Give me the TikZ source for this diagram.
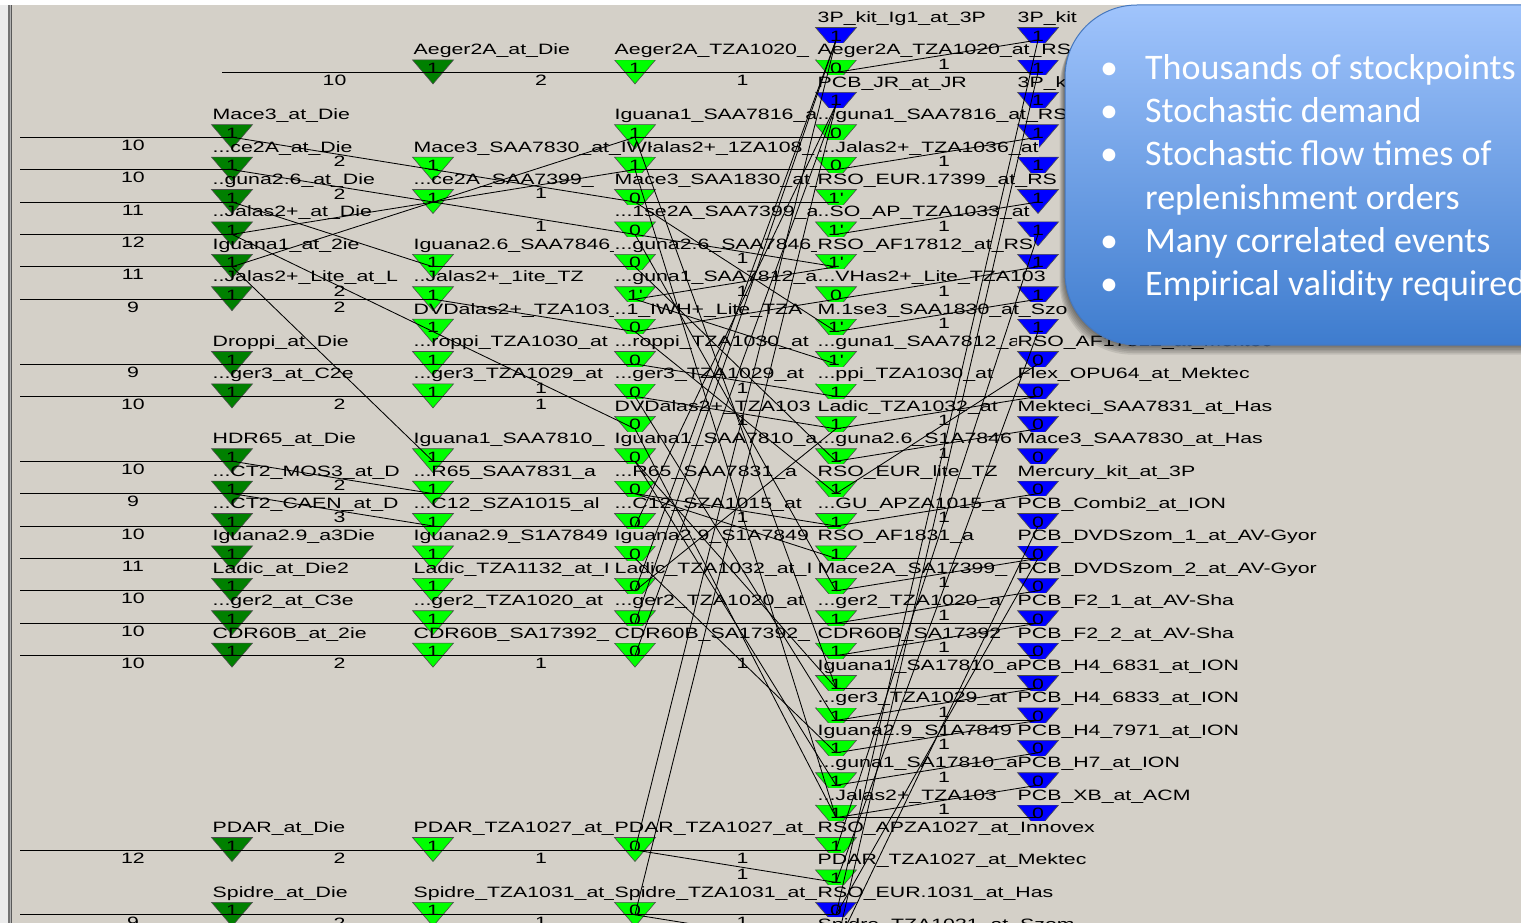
\documentclass[tikz,border=0pt]{standalone}
\usepackage{fontspec}
\setmainfont{Liberation Sans}
\newfontfamily\uifont[FakeStretch=1.42]{Liberation Sans}
\newfontfamily\boxfont{Carlito}
\definecolor{bg}{RGB}{212,208,200}
\definecolor{dkgreen}{RGB}{0,128,0}
\definecolor{ltgreen}{RGB}{0,255,0}
\definecolor{pblue}{RGB}{0,0,255}
\definecolor{boxtop}{RGB}{160,196,252}
\definecolor{boxbot}{RGB}{62,124,206}
\definecolor{boxedge}{RGB}{70,120,190}
\tikzset{
  lbl/.style={anchor=base west, inner xsep=0.5pt, inner ysep=1.5pt, font=\uifont\fontsize{15}{15}\selectfont, text=black},
  lblf/.style={lbl, fill=bg},
  num/.style={font=\uifont\fontsize{15}{15}\selectfont, inner sep=0pt, text=black, xshift=7pt, yshift=-8pt},
  tdig/.style={font=\uifont\fontsize{15}{15}\selectfont, inner sep=0pt, text=black},
  link/.style={draw=black, line width=0.85pt},
  bul/.style={anchor=base west, inner sep=0pt, text=white, font=\boxfont\fontsize{36}{36}\selectfont},
}
\newcommand\stp[5]{%
  \path[fill=#4, draw=black!70, line width=0.6pt] ({#2-20.5},{27.5+32.4*#3}) -- ({#2+20.5},{27.5+32.4*#3}) -- ({#2},{51.5+32.4*#3}) -- cycle;
  \node[tdig] at ({#2},{36+32.4*#3}) {#5};
  \coordinate (#1) at ({#2},{40+32.4*#3});
}
\newcommand\lab[4]{\node[#1] at ({#2},{22.5+32.4*#3}) {\detokenize{#4}};}
\newcommand\lk[3]{\draw[link] (#1) -- node[num, pos=0.5]{#3} (#2);}
\begin{document}
\begin{tikzpicture}[x=1pt,y=-1pt]
\useasboundingbox (0,0) rectangle (1521,923);
\clip (0,0) rectangle (1521,923);
\fill[bg] (0,0) rectangle (1521,923);
\fill[white] (0,0) rectangle (1521,5);
\fill[black!8] (0,5) rectangle (8,923);
\fill[black!55] (8.3,5) rectangle (10,923);
\fill[black!30] (10,5) rectangle (11,923);
\fill[black!65] (11,5) rectangle (12.4,923);
% ---------- stockpoints ----------
\foreach \r in {3,4,5,6,7,8,10,11,13,14,15,16,17,18,19,25,27} {\stp{A\r}{232}{\r}{dkgreen}{1}}
\stp{B1}{433}{1}{dkgreen}{1}
\foreach \r in {4,5,7,8,9,10,11,13,14,15,16,17,18,19,25,27} {\stp{B\r}{433}{\r}{ltgreen}{1}}
\foreach \r/\d in {1/1,3/1,4/1,5/0,6/0,7/0,8/1',9/0,10/0,11/0,12/0,13/0,14/0,15/0,16/0,17/0,18/0,19/0,25/0,27/0} {\stp{C\r}{635}{\r}{ltgreen}{\d}}
\foreach \r/\c/\d in {0/pblue/1,1/ltgreen/0,2/pblue/1,3/ltgreen/0,4/ltgreen/0,5/ltgreen/1',6/ltgreen/1',7/ltgreen/1',8/ltgreen/0,9/ltgreen/1',10/ltgreen/1',11/ltgreen/1,12/ltgreen/1,13/ltgreen/1,14/ltgreen/1,15/ltgreen/1,16/ltgreen/1,17/ltgreen/1,18/ltgreen/1,19/ltgreen/1,20/ltgreen/1,21/ltgreen/1,22/ltgreen/1,23/ltgreen/1,24/ltgreen/1,25/ltgreen/1,26/ltgreen/1,27/pblue/0,28/pblue/0} {\stp{D\r}{836}{\r}{\c}{\d}}
\foreach \r in {0,...,9} {\stp{E\r}{1038}{\r}{pblue}{1}}
\foreach \r in {10,...,24} {\stp{E\r}{1038}{\r}{pblue}{0}}
% ---------- labels column A ----------
\lab{lbl}{212}{3}{Mace3_at_Die}
\lab{lbl}{212}{4}{...ce2A_at_Die}
\lab{lbl}{212}{5}{..guna2.6_at_Die}
\lab{lbl}{212}{6}{..Jalas2+_at_Die}
\lab{lbl}{212}{7}{Iguana1_at_2ie}
\lab{lbl}{212}{8}{..Jalas2+_Lite_at_L}
\lab{lbl}{212}{10}{Droppi_at_Die}
\lab{lbl}{212}{11}{...ger3_at_C2e}
\lab{lbl}{212}{13}{HDR65_at_Die}
\lab{lbl}{212}{14}{...CT2_MOS3_at_D}
\lab{lbl}{212}{15}{...CT2_CAEN_at_D}
\lab{lbl}{212}{16}{Iguana2.9_a3Die}
\lab{lbl}{212}{17}{Ladic_at_Die2}
\lab{lbl}{212}{18}{...ger2_at_C3e}
\lab{lbl}{212}{19}{CDR60B_at_2ie}
\lab{lbl}{212}{25}{PDAR_at_Die}
\lab{lbl}{212}{27}{Spidre_at_Die}
% ---------- labels column B ----------
\lab{lbl}{413}{1}{Aeger2A_at_Die}
\lab{lbl}{413}{4}{Mace3_SAA7830_at_IWH}
\lab{lbl}{413}{5}{...ce2A_SAA7399_}
\lab{lbl}{413}{7}{Iguana2.6_SAA7846_}
\lab{lbl}{413}{8}{..Jalas2+_1ite_TZ}
\lab{lbl}{413}{9}{DVDalas2+_TZA103_}
\lab{lbl}{413}{10}{...roppi_TZA1030_at}
\lab{lbl}{413}{11}{...ger3_TZA1029_at}
\lab{lbl}{413}{13}{Iguana1_SAA7810_}
\lab{lbl}{413}{14}{...R65_SAA7831_a}
\lab{lbl}{413}{15}{...C12_SZA1015_al}
\lab{lbl}{413}{16}{Iguana2.9_S1A7849}
\lab{lbl}{413}{17}{Ladic_TZA1132_at_I}
\lab{lbl}{413}{18}{...ger2_TZA1020_at}
\lab{lbl}{413}{19}{CDR60B_SA17392_}
\lab{lbl}{413}{25}{PDAR_TZA1027_at_}
\lab{lbl}{413}{27}{Spidre_TZA1031_at_}
% ---------- labels column C ----------
\lab{lblf}{614}{1}{Aeger2A_TZA1020_}
\lab{lblf}{614}{3}{Iguana1_SAA7816_a}
\lab{lblf}{652}{4}{alas2+_1ZA108_}
\lab{lblf}{614}{5}{Mace3_SAA1830_at_}
\lab{lblf}{614}{6}{...1se2A_SAA7399_a}
\lab{lblf}{614}{7}{...guna2.6_SAA7846_}
\lab{lblf}{614}{8}{...guna1_SAA7812_a}
\lab{lblf}{614}{9}{..1_IWH+_Lite_TZA}
\lab{lblf}{614}{10}{...roppi_TZA1030_at}
\lab{lblf}{614}{11}{...ger3_TZA1029_at}
\lab{lblf}{614}{12}{DVDalas2+_TZA103}
\lab{lblf}{614}{13}{Iguana1_SAA7810_a}
\lab{lblf}{614}{14}{...R65_SAA7831_a}
\lab{lblf}{614}{15}{...C12_SZA1015_at}
\lab{lblf}{614}{16}{Iguana2.9_S1A7849}
\lab{lblf}{614}{17}{Ladic_TZA1032_at_I}
\lab{lblf}{614}{18}{...ger2_TZA1020_at}
\lab{lblf}{614}{19}{CDR60B_SA17392_}
\lab{lblf}{614}{25}{PDAR_TZA1027_at_}
\lab{lblf}{614}{27}{Spidre_TZA1031_at_}
% ---------- labels column D ----------
\lab{lblf}{817}{0}{3P_kit_Ig1_at_3P}
\lab{lblf}{817}{1}{Aeger2A_TZA1020_at_RS}
\lab{lblf}{817}{2}{PCB_JR_at_JR}
\lab{lblf}{817}{3}{...guna1_SAA7816_at_RS}
\lab{lblf}{817}{4}{...Jalas2+_TZA1036_at}
\lab{lblf}{817}{5}{RSO_EUR.17399_at_RS}
\lab{lblf}{817}{6}{..SO_AP_TZA1033_at}
\lab{lblf}{817}{7}{RSO_AF17812_at_RS}
\lab{lblf}{817}{8}{...VHas2+_Lite_TZA103}
\lab{lblf}{817}{9}{M.1se3_SAA1830_at_Szo}
\lab{lblf}{817}{10}{...guna1_SAA7812_at}
\lab{lblf}{817}{11}{...ppi_TZA1030_at}
\lab{lblf}{817}{12}{Ladic_TZA1032_at}
\lab{lblf}{817}{13}{...guna2.6_S1A7846}
\lab{lblf}{817}{14}{RSO_EUR_lite_TZ}
\lab{lblf}{817}{15}{...GU_APZA1015_a}
\lab{lblf}{817}{16}{RSO_AF1831_a}
\lab{lblf}{817}{17}{Mace2A_SA17399_}
\lab{lblf}{817}{18}{...ger2_TZA1020_a}
\lab{lblf}{817}{19}{CDR60B_SA17392}
\lab{lblf}{817}{20}{Iguana1_SA17810_a}
\lab{lblf}{817}{21}{...ger3_TZA1029_at}
\lab{lblf}{817}{22}{Iguana2.9_S1A7849}
\lab{lblf}{817}{23}{...guna1_SA17810_a}
\lab{lblf}{817}{24}{...Jalas2+_TZA103}
\lab{lblf}{817}{25}{RSO_APZA1027_at_Innovex}
\lab{lblf}{817}{26}{PDAR_TZA1027_at_Mektec}
\lab{lblf}{817}{27}{RSO_EUR.1031_at_Has}
\lab{lblf}{817}{28}{Spidre_TZA1031_at_Szom}
% ---------- labels column E ----------
\lab{lblf}{1017}{0}{3P_kit}
\lab{lblf}{1017}{2}{3P_k}
\lab{lblf}{1017}{10}{RSO_AF17812_at_Mektec}
\lab{lblf}{1017}{11}{Flex_OPU64_at_Mektec}
\lab{lblf}{1017}{12}{Mekteci_SAA7831_at_Has}
\lab{lblf}{1017}{13}{Mace3_SAA7830_at_Has}
\lab{lblf}{1017}{14}{Mercury_kit_at_3P}
\lab{lblf}{1017}{15}{PCB_Combi2_at_ION}
\lab{lblf}{1017}{16}{PCB_DVDSzom_1_at_AV-Gyor}
\lab{lblf}{1017}{17}{PCB_DVDSzom_2_at_AV-Gyor}
\lab{lblf}{1017}{18}{PCB_F2_1_at_AV-Sha}
\lab{lblf}{1017}{19}{PCB_F2_2_at_AV-Sha}
\lab{lblf}{1017}{20}{PCB_H4_6831_at_ION}
\lab{lblf}{1017}{21}{PCB_H4_6833_at_ION}
\lab{lblf}{1017}{22}{PCB_H4_7971_at_ION}
\lab{lblf}{1017}{23}{PCB_H7_at_ION}
\lab{lblf}{1017}{24}{PCB_XB_at_ACM}
% ---------- connectors ----------
\foreach \r/\n in {3/10,4/10,5/11,6/12,7/11,8/9,10/9,11/10,13/10,14/9,15/10,16/11,17/10,18/10,19/10,25/12,27/9} {
  \coordinate (s\r) at (20,{40+32.4*\r});
  \draw[link] (s\r) -- node[num, pos=0.5]{\n} (A\r);
}
\coordinate (s1) at (222,{40+32.4*1});
\lk{s1}{B1}{10}
% A -> B
\lk{A3}{B4}{2}\lk{A4}{B5}{2}\lk{A5}{B7}{}\lk{A6}{B9}{2}\lk{A8}{B8}{2}
\lk{A10}{B10}{}\lk{A11}{B11}{2}\lk{A13}{B14}{2}\lk{A14}{B15}{3}\lk{A14}{B14}{}
\lk{A15}{B15}{}\lk{A16}{B16}{}\lk{A17}{B17}{}\lk{A18}{B18}{}\lk{A19}{B19}{2}
\lk{A25}{B25}{2}\lk{A27}{B27}{2}\lk{A7}{B13}{}\lk{A6}{C4}{}\lk{A7}{C3}{}
% B -> C
\lk{B1}{C1}{2}\lk{B4}{C5}{1}\lk{B5}{C6}{1}\lk{B7}{C7}{}\lk{B8}{C9}{}
\lk{B9}{C12}{1}\lk{B10}{C10}{}\lk{B11}{C11}{1}\lk{B13}{C13}{}\lk{B14}{C14}{}
\lk{B15}{C15}{}\lk{B16}{C16}{}\lk{B17}{C17}{}\lk{B18}{C18}{}\lk{B19}{C19}{1}
\lk{B25}{C25}{1}\lk{B27}{C27}{1}
% C -> D
\lk{C1}{D1}{1}\lk{C3}{D3}{}\lk{C4}{D4}{}\lk{C5}{D9}{}\lk{C5}{D5}{}
\lk{C6}{D17}{}\lk{C6}{D7}{1}\lk{C7}{D13}{}\lk{C8}{D7}{1}\lk{C8}{D10}{}
\lk{C9}{D8}{}\lk{C10}{D11}{1}\lk{C11}{D21}{}\lk{C12}{D24}{}\lk{C11}{D12}{1}
\lk{C13}{D20}{}\lk{C13}{D23}{}\lk{C14}{D16}{}\lk{C14}{D15}{1}\lk{C15}{D15}{}
\lk{C16}{D22}{}\lk{C17}{D12}{}\lk{C18}{D18}{}\lk{C19}{D19}{1}
\lk{C25}{D25}{1}\lk{C25}{D26}{1}\lk{C27}{D27}{1}\lk{C27}{D28}{}
\lk{C25}{D0}{}\lk{C27}{D2}{}\lk{C19}{D2}{}\lk{C17}{D0}{}\lk{C15}{D2}{}\lk{C18}{D0}{}
\lk{C9}{D14}{}\lk{C4}{D24}{}\lk{C3}{D20}{}
% D -> E
\lk{D1}{E0}{1}\lk{D4}{E3}{1}\lk{D6}{E5}{1}\lk{D8}{E7}{1}\lk{D9}{E8}{1}
\lk{D12}{E11}{1}\lk{D13}{E12}{1}\lk{D15}{E14}{1}\lk{D17}{E16}{1}\lk{D18}{E17}{1}
\lk{D19}{E18}{1}\lk{D21}{E20}{1}\lk{D22}{E21}{1}\lk{D23}{E22}{1}\lk{D24}{E23}{1}
\lk{D1}{E1}{}\lk{D11}{E11}{}\lk{D16}{E16}{}\lk{D18}{E18}{}\lk{D19}{E19}{}
\lk{D20}{E20}{}\lk{D21}{E21}{}\lk{D24}{E24}{}
\lk{D28}{E1}{}\lk{D27}{E0}{}\lk{D28}{E15}{}\lk{D27}{E16}{}
\lk{D14}{E10}{}\lk{D25}{E6}{}\lk{D26}{E9}{}
% ---------- callout box ----------
\foreach \i in {1,...,6} {
  \fill[black, opacity=0.09, rounded corners=72pt] ({1065-\i*0.9},{5+\i*1.6}) rectangle (1620,{345+\i*1.6});
}
\shade[top color=boxtop, bottom color=boxbot, rounded corners=72pt] (1065,5) rectangle (1620,345);
\draw[boxedge, line width=1pt, rounded corners=72pt] (1065,5) rectangle (1620,345);
\node[bul] (b1) at (1100,80) {•};
\node[bul] (t1) at (1145,80) {Thousands of stockpoints};
\node[bul] (b2) at (1100,123) {•};
\node[bul] (t2) at (1145,123) {Stochastic demand};
\node[bul] (b3) at (1100,166) {•};
\node[bul] (t3) at (1145,166) {Stochastic flow times of};
\node[bul] (t4) at (1145,209) {replenishment orders};
\node[bul] (b5) at (1100,252) {•};
\node[bul] (t5) at (1145,252) {Many correlated events};
\node[bul] (b6) at (1100,295) {•};
\node[bul] (t6) at (1145,295) {Empirical validity required};
\end{tikzpicture}
\end{document}
